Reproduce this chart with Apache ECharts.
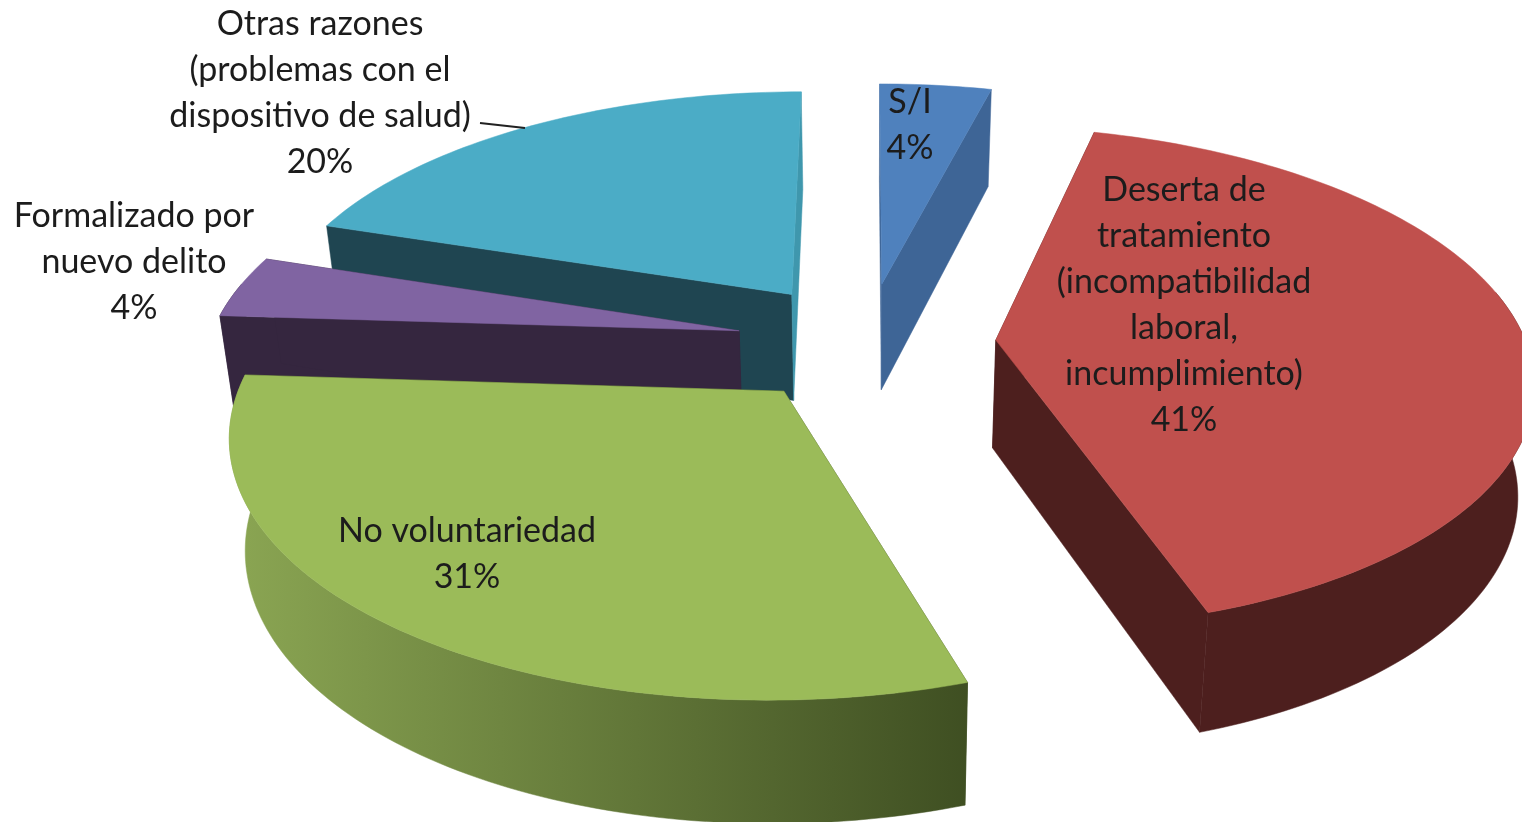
<!DOCTYPE html>
<html>
<head>
<meta charset="utf-8">
<style>html,body{margin:0;padding:0;background:#fff}#c{width:1522px;height:822px}</style>
<script src="https://cdn.jsdelivr.net/npm/echarts@6/dist/echarts.min.js"></script>
</head>
<body>
<div id="c"></div>
<script>
// Data, in the clockwise order of the pie, starting at 12 o'clock
var categories = ['S/I', 'Deserta de\ntratamiento\n(incompatibilidad\nlaboral,\nincumplimiento)', 'No voluntariedad', 'Formalizado por\nnuevo delito', 'Otras razones\n(problemas con el\ndispositivo de salud)'];
var values = [4, 41, 31, 4, 20];

// Styles
var topColors = ['#4f81bd', '#c0504d', '#9bbb59', '#8064a2', '#4bacc6'];
var startEdgeColors = ['#3e6596', '#4d1f1e', '#3f4f22', '#35263f', '#1f4551'];
var endEdgeColors = ['#3e6596', '#4d1f1e', '#3f4f22', '#35263f', '#3f97ad'];
var rimColors = [['#3e6596', '#3e6596'], ['#4d1f1e', '#4d1f1e'], ['#8ba653', '#3f4f22'], ['#35263f', '#35263f'], ['#3f97ad', '#3f97ad']];
var drawOrder = [4, 3, 0, 1, 2];
var labelAnchors = [[910, 125], [1184, 305], [467, 554], [134, 262], [320, 93]];

// Perspective model of the tilted pie
var view = { cx: 866, cy: 342, horizon: -1300, k: 0.000283, radius: 530, explode: 130, depthBase: 37, depthScale: 71, bottomScale: 0.975, rimLimit: -0.2 };
var total = values.reduce(function (a, b) { return a + b; }, 0);

function project(X, Y, low) {
  var s = 1 / (1 - view.k * Y);
  var x = X * s * (low ? view.bottomScale : 1);
  return [view.cx + x, view.horizon + (view.cy - view.horizon) * s + (low ? view.depthBase + view.depthScale * s : 0)];
}

function sliceAngles(i) {
  var before = 0;
  for (var j = 0; j < i; j++) before += values[j];
  return [before / total * 2 * Math.PI, (before + values[i]) / total * 2 * Math.PI];
}

function renderSlice(params, api) {
  var i = params.dataIndex;
  var a = sliceAngles(i), mid = (a[0] + a[1]) / 2;
  var ox = Math.sin(mid) * view.explode, oy = -Math.cos(mid) * view.explode;
  var top = [], low = [], rimTop = [], rimLow = [], steps = Math.ceil((a[1] - a[0]) / 0.02);
  for (var n = 0; n <= steps; n++) {
    var t = a[0] + (a[1] - a[0]) * n / steps;
    var X = ox + Math.sin(t) * view.radius, Y = oy - Math.cos(t) * view.radius;
    var pt = project(X, Y, false), pl = project(X, Y, true);
    top.push(pt);
    low.push(pl);
    if (-Math.cos(t) > view.rimLimit) { rimTop.push(pt); rimLow.push(pl); }
  }
  var apexT = project(ox, oy, false), apexL = project(ox, oy, true);
  var base = drawOrder.indexOf(i) * 10;
  var poly = function (points, fill, z) {
    return { type: 'polygon', shape: { points: points }, z2: base + z, style: { fill: fill, stroke: fill, lineWidth: 0.5 } };
  };
  var rimFill = new echarts.graphic.LinearGradient(0, 0, 1, 0, [
    { offset: 0, color: rimColors[i][0] }, { offset: 1, color: rimColors[i][1] }
  ]);
  var children = [
    poly([apexT, top[0], low[0], apexL], startEdgeColors[i], 1),
    poly([apexT, top[steps], low[steps], apexL], endEdgeColors[i], 2)
  ];
  if (rimTop.length > 1) children.push(poly(rimTop.concat(rimLow.slice().reverse()), rimFill, 3));
  children.push(poly([apexT].concat(top), topColors[i], 4));
  return { type: 'group', children: children };
}

function renderLabel(params) {
  var i = params.dataIndex;
  var pct = Math.round(values[i] / total * 100) + '%';
  return {
    type: 'text', z2: 100,
    style: {
      x: labelAnchors[i][0], y: labelAnchors[i][1],
      text: categories[i] + '\n' + pct,
      textAlign: 'center', textVerticalAlign: 'middle',
      fontFamily: 'Lato', fontSize: 34, lineHeight: 46, fill: '#1c1c1c'
    }
  };
}

var chart = echarts.init(document.getElementById('c'), null, { renderer: 'canvas' });
chart.setOption({
  backgroundColor: '#ffffff',
  animation: false,
  series: [
    { type: 'custom', coordinateSystem: 'none', silent: true, z: 2, data: values, renderItem: renderSlice },
    { type: 'custom', coordinateSystem: 'none', silent: true, z: 3, data: values, renderItem: renderLabel },
    { type: 'custom', coordinateSystem: 'none', silent: true, z: 4, data: [20], renderItem: function () {
        return { type: 'line', shape: { x1: 480, y1: 123, x2: 525, y2: 128 }, style: { stroke: '#222', lineWidth: 2 } };
      } }
  ]
});
</script>
</body>
</html>
